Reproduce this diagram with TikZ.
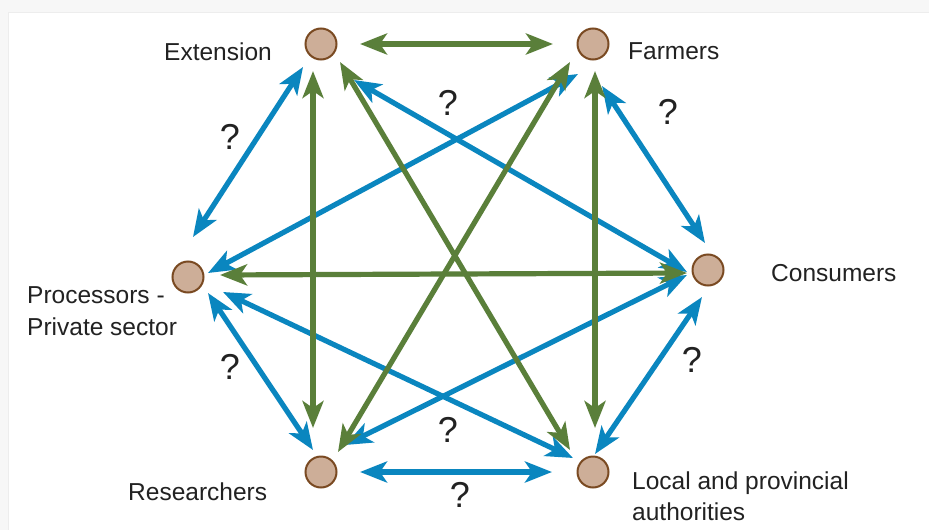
\documentclass[tikz,border=0pt]{standalone}
\usepackage{fontspec}
\setmainfont{Liberation Sans}
\usetikzlibrary{positioning, arrows.meta, calc}
\definecolor{linkblue}{HTML}{0A86BF}
\definecolor{linkgreen}{HTML}{5A7F3A}
\definecolor{actorfill}{HTML}{CDAE98}
\definecolor{actoredge}{HTML}{7A4A22}
\definecolor{labelgray}{HTML}{222222}

\begin{document}
\begin{tikzpicture}[x=1pt, y=-1pt,
    actor/.style={circle, draw=actoredge, fill=actorfill, line width=2pt,
        minimum size=31pt, inner sep=0pt},
    who/.style={font=\fontsize{24.5}{31.5}\selectfont, text=labelgray,
        inner sep=0pt, align=left},
    ask/.style={font=\fontsize{36}{40}\selectfont, text=labelgray, inner sep=0pt},
    head/.tip={Stealth[length=27pt, width=21pt, inset=7pt]},
    blueline/.style={draw=linkblue, line width=5.2pt, head-head},
    greenline/.style={draw=linkgreen, line width=5.2pt, head-head}]
    \useasboundingbox (0,0) rectangle (929,530);
    \fill[black!3] (0,0) rectangle (929,530);
    \fill[white] (9,13) rectangle (929,530);
    \draw[black!7, line width=1pt] (8.5,530) -- (8.5,12.5) -- (929,12.5);

    % actors
    \node[actor] (ext)  at (321,44) {};
    \node[actor] (farm) at (593,44) {};
    \node[actor] (proc) at (188,277) {};
    \node[actor] (cons) at (708,270) {};
    \node[actor] (res)  at (321,472) {};
    \node[actor] (loc)  at (593,472) {};

    \node[who, anchor=east] (extlbl) at (272,51.5) {Extension};
    \node[who, anchor=west] (farmlbl) at (628,51.5) {Farmers};
    \node[who, anchor=base west] (proclbl) at (27,335) {Processors -\\Private sector};
    \node[who, anchor=west] (conslbl) at (771,273.5) {Consumers};
    \node[who, anchor=west] (reslbl) at (128,492) {Researchers};
    \node[who, anchor=base west] (loclbl) at (632,520.5) {Local and provincial\\authorities};

    % blue links
    \draw[blueline] ($(ext)+(-18,23)$) -- ($(proc)+(5,-40)$);
    \draw[blueline] ($(ext)+(33,36)$) -- ($(cons)+(-21,2)$);
    \draw[blueline] ($(farm)+(-15,30)$) -- ($(proc)+(20,-4)$);
    \draw[blueline] ($(farm)+(9,42)$) -- ($(cons)+(-3,-27)$);
    \draw[blueline] ($(proc)+(20,16)$) -- ($(res)+(-8,-22)$);
    \draw[blueline] ($(proc)+(35,15)$) -- ($(loc)+(-20,-14)$);
    \draw[blueline] ($(res)+(24,-27)$) -- ($(cons)+(-21,5)$);
    \draw[blueline] ($(res)+(39,0)$) -- ($(loc)+(-41,0)$);
    \draw[blueline] ($(loc)+(2,-18)$) -- ($(cons)+(-6,27)$);

    % green links
    \draw[greenline] ($(ext)+(39,0)$) -- ($(farm)+(-40,0)$);
    \draw[greenline] ($(ext)+(-8,27)$) -- ($(res)+(-8,-44)$);
    \draw[greenline] ($(farm)+(2,27)$) -- ($(loc)+(2,-44)$);
    \draw[greenline] ($(ext)+(19,18)$) -- ($(loc)+(-23,-22)$);
    \draw[greenline] ($(farm)+(-23,18)$) -- ($(res)+(17,-20)$);
    \draw[greenline] ($(cons)+(-21,3)$) -- ($(proc)+(32,-2)$);

    % open questions
    \foreach \qx/\qy in {230/137, 448/103, 668/112, 230/367, 692/360, 448/430, 460/495}
        \node[ask] (ask-\qx-\qy) at (\qx,\qy) {?};
\end{tikzpicture}
\end{document}
